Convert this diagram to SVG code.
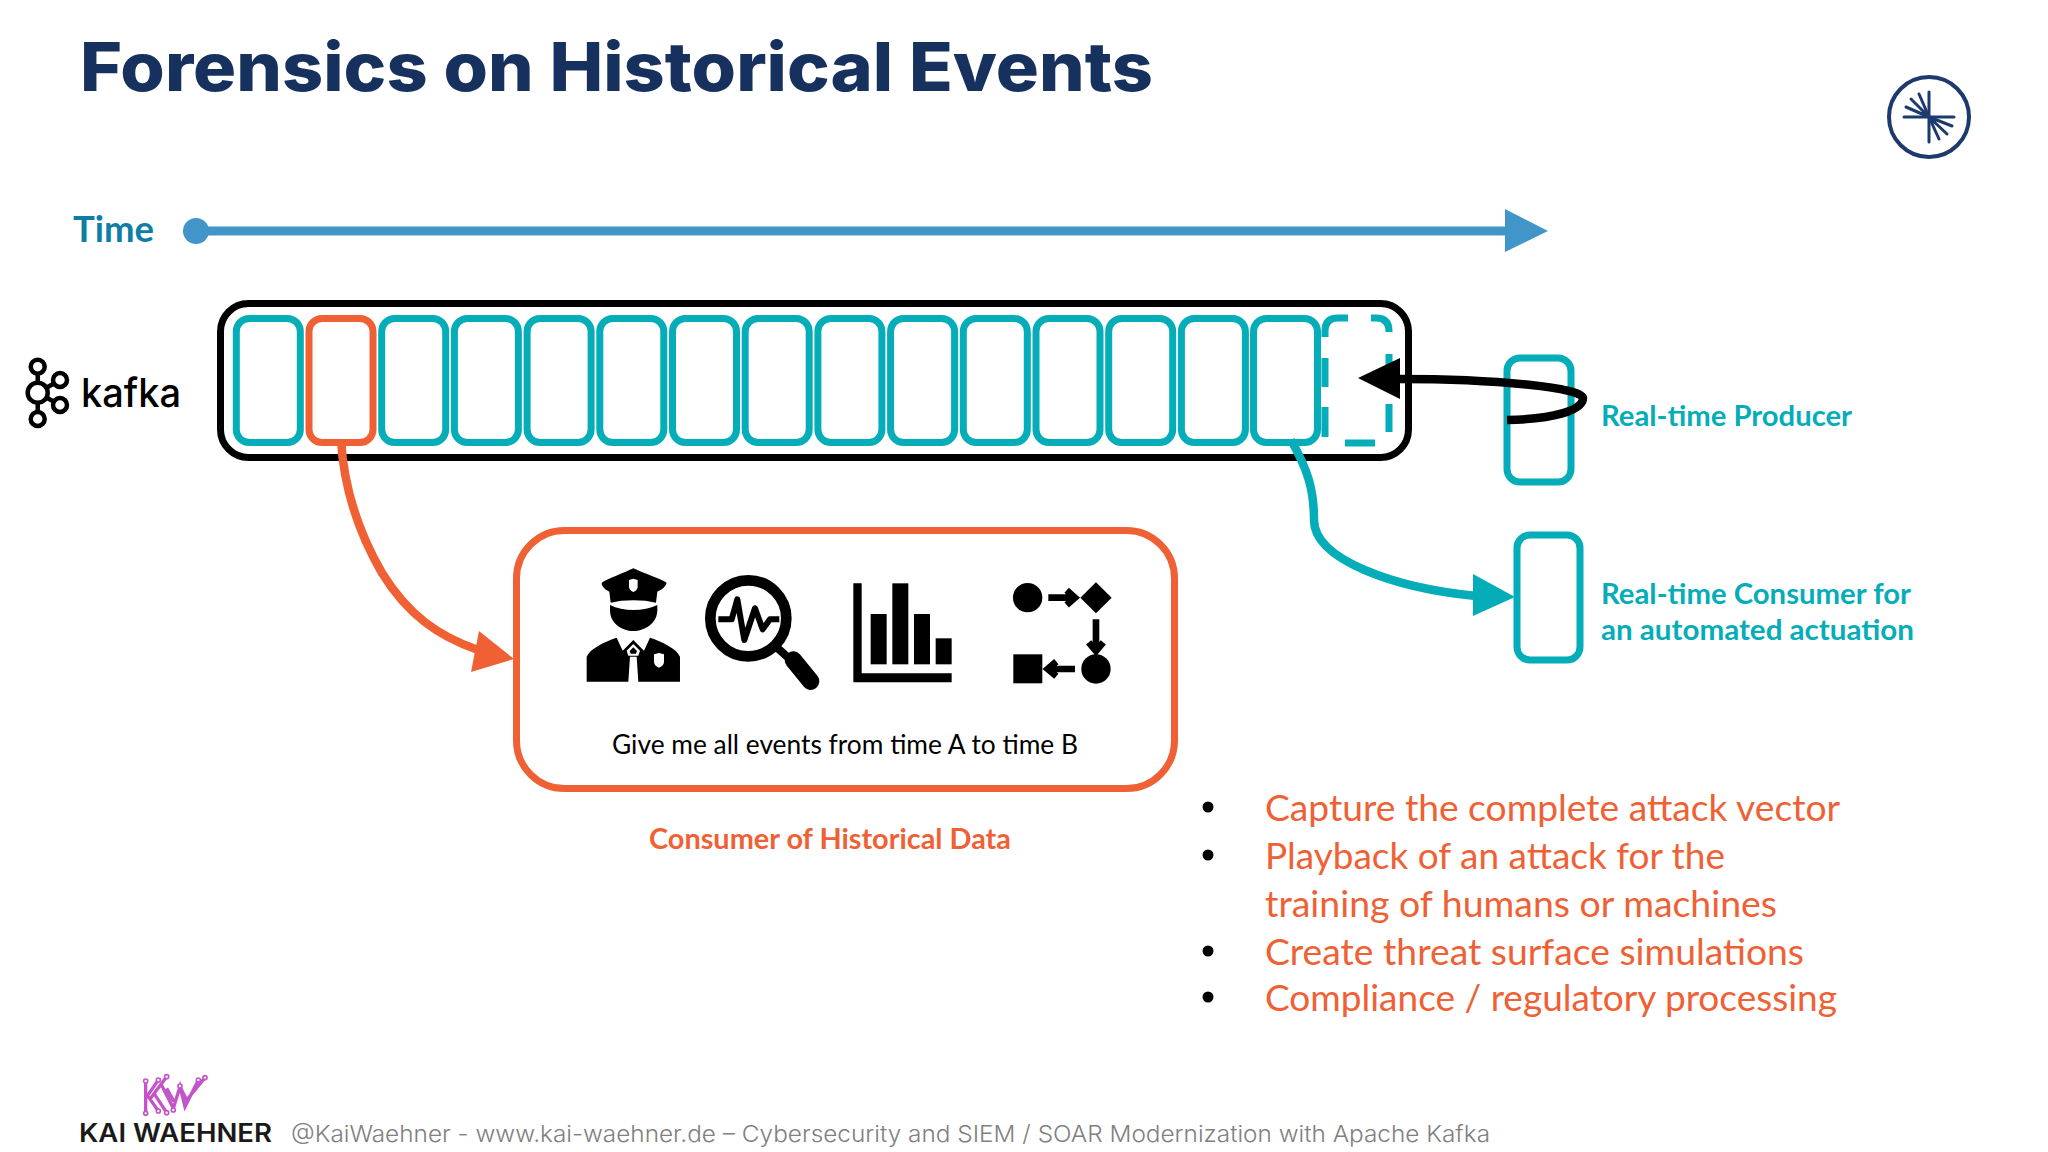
<svg xmlns="http://www.w3.org/2000/svg" width="2048" height="1152" viewBox="0 0 2048 1152">
<style>
text{font-family:"Lato","Open Sans","Liberation Sans",sans-serif}
.cell{fill:none;stroke:#05adb8;stroke-width:7}
.dash{fill:none;stroke:#05adb8;stroke-width:7}
.lab{font-weight:700;font-size:28px;fill:#05adb8}
.bul{font-size:36px;fill:#ef6134}
.dot{fill:#000}
.w{fill:#fff}
.kw{fill:none;stroke:#c455c8;stroke-width:10}
.kwd{fill:#fff;stroke:#c455c8;stroke-width:5}
.k{fill:none;stroke:#000;stroke-width:4.5}
</style>
<rect width="2048" height="1152" fill="#fff"/>
<g id="title"><text x="80" y="91" font-size="67" font-weight="800" fill="#17315f" textLength="1073" lengthAdjust="spacingAndGlyphs" style="font-family:Inter,'Open Sans',sans-serif">Forensics on Historical Events</text></g>
<g id="confluent-logo" fill="none" stroke="#1c3a6e">
<circle cx="1929" cy="117" r="40" stroke-width="4"/>
<g stroke-width="3" stroke-linecap="round"><path d="M1904 117H1954M1929 92V142"/>
<path d="M1929 117L1906 107M1929 117L1911 99M1929 117L1919 94M1929 117L1952 126M1929 117L1947 134M1929 117L1939 139"/></g>
</g>
<g id="time"><text x="73" y="242" font-size="37" font-weight="700" fill="#0f7ea5" textLength="81" lengthAdjust="spacingAndGlyphs">Time</text></g>
<g id="kafka-logo">
<path class="k" d="M37.7 366.700V419M37.700 392.700L60 380M37.700 392.700L60 405"/>
<circle class="w" cx="37.700" cy="392.700" r="10"/><circle class="k" cx="37.700" cy="392.700" r="10"/>
<circle class="w" cx="37.700" cy="366.700" r="7"/><circle class="k" cx="37.700" cy="366.700" r="7"/>
<circle class="w" cx="37.700" cy="419" r="7"/><circle class="k" cx="37.700" cy="419" r="7"/>
<circle class="w" cx="60" cy="380" r="7"/><circle class="k" cx="60" cy="380" r="7"/>
<circle class="w" cx="60" cy="405" r="7"/><circle class="k" cx="60" cy="405" r="7"/>
<text x="81" y="407" font-size="39" font-weight="500" fill="#000" textLength="100" lengthAdjust="spacingAndGlyphs" style="font-family:Inter,sans-serif">kafka</text>
</g>
<g id="log">
<rect x="220.500" y="303.500" width="1188" height="154" rx="28" fill="none" stroke="#000" stroke-width="7"/>
<rect class="cell" x="236.300" y="318.500" width="64" height="124" rx="13"/>
<rect class="cell" x="381.700" y="318.500" width="64" height="124" rx="13"/>
<rect class="cell" x="454.400" y="318.500" width="64" height="124" rx="13"/>
<rect class="cell" x="527.100" y="318.500" width="64" height="124" rx="13"/>
<rect class="cell" x="599.800" y="318.500" width="64" height="124" rx="13"/>
<rect class="cell" x="672.500" y="318.500" width="64" height="124" rx="13"/>
<rect class="cell" x="745.200" y="318.500" width="64" height="124" rx="13"/>
<rect class="cell" x="817.900" y="318.500" width="64" height="124" rx="13"/>
<rect class="cell" x="890.600" y="318.500" width="64" height="124" rx="13"/>
<rect class="cell" x="963.300" y="318.500" width="64" height="124" rx="13"/>
<rect class="cell" x="1036" y="318.500" width="64" height="124" rx="13"/>
<rect class="cell" x="1108.700" y="318.500" width="64" height="124" rx="13"/>
<rect class="cell" x="1181.400" y="318.500" width="64" height="124" rx="13"/>
<rect class="cell" x="1253.500" y="318.500" width="64" height="124" rx="13"/>
<rect x="309" y="318.500" width="64" height="124" rx="13" fill="none" stroke="#ef6134" stroke-width="7"/>
<path class="dash" d="M1325 337V331Q1325 318 1338 318H1348M1371 318H1376Q1389 318 1389 331V332M1325 358V387M1325 407V437M1389 354V387M1389 404V432M1345 443H1375"/>
</g>
<g id="producer"><rect class="cell" x="1507" y="358" width="64" height="124" rx="13"/><text class="lab" x="1601" y="426" textLength="251" lengthAdjust="spacingAndGlyphs">Real-time Producer</text></g>
<g id="consumer"><rect class="cell" x="1517" y="535" width="63" height="125" rx="13"/><text class="lab" x="1601" y="604" textLength="310" lengthAdjust="spacingAndGlyphs">Real-time Consumer for</text><text class="lab" x="1601" y="640" textLength="313" lengthAdjust="spacingAndGlyphs">an automated actuation</text></g>
<g id="historical-consumer">
<rect x="516.500" y="530.500" width="658" height="258" rx="48" fill="#fff" stroke="#ef6134" stroke-width="7"/>
<g id="icon-police" transform="translate(580 560) scale(.3333)">
<path d="M160 25C190 40 240 55 260 68C255 85 240 90 232 95L228 128C190 118 130 118 92 128L88 95C75 88 65 80 65 68C85 55 130 40 160 25Z"/>
<path class="w" d="M147 60L160 56L173 60V80Q173 90 160 96Q147 90 147 80Z"/>
<path d="M90 135C130 155 190 155 232 135V150C232 190 195 213 160 213C125 213 90 190 90 150Z"/>
<path d="M20 365V290C30 265 75 245 110 233L128 272L160 240L192 272L210 233C245 245 290 265 300 290V365H175L170 290H150L145 365Z"/>
<path class="w" d="M160 252L180 272L175 287H145L140 272Z"/><path d="M160 262L171 273L168 281H152L149 273Z"/>
<path class="w" d="M222 283L237 279L252 283V305Q252 317 237 323Q222 317 222 305Z"/>
</g>
<g id="icon-search" transform="translate(580 560) scale(.3333)">
<circle cx="505" cy="175" r="114" fill="none" stroke="#000" stroke-width="32"/>
<path d="M415 178H455L472 118L493 240L525 145L548 208L570 178H598" fill="none" stroke="#000" stroke-width="18" stroke-linejoin="round"/>
<path d="M590 262L630 298" stroke="#000" stroke-width="24"/>
<path d="M640 300L692 364" stroke="#000" stroke-width="52" stroke-linecap="round"/>
</g>
<g id="icon-chart" transform="translate(845 565) scale(.3333)">
<path d="M25 55H50V325H320V352H25Z"/><rect x="77" y="147" width="48" height="151"/><rect x="142" y="55" width="48" height="243"/><rect x="207" y="147" width="48" height="151"/><rect x="272" y="220" width="48" height="78"/>
</g>
<g id="icon-flow" transform="translate(845 565) scale(.3333)">
<circle cx="548" cy="98" r="44"/><path d="M706 98L753 52L800 98L753 145Z"/><circle cx="753" cy="312" r="44"/><rect x="505" y="268" width="87" height="87"/>
<path d="M610 98H685M665 76L690 98L665 120M753 163V250M731 232L753 258L775 232M690 312H612M634 290L608 312L634 334" fill="none" stroke="#000" stroke-width="20"/>
</g>
<text x="612" y="754" font-size="27" fill="#000" textLength="466" lengthAdjust="spacingAndGlyphs">Give me all events from time A to time B</text>
<text x="649" y="849" font-size="28" font-weight="700" fill="#ef6134" textLength="362" lengthAdjust="spacingAndGlyphs">Consumer of Historical Data</text>
</g>
<g id="connectors">
<path d="M205 231H1510" stroke="#4195c8" stroke-width="9" fill="none"/>
<circle cx="196" cy="231" r="13" fill="#4195c8"/>
<path d="M1505 209L1548 231L1505 252Z" fill="#4195c8"/>
<path d="M341 440C344 490 360 535 382 573C408 615 438 636 478 650" fill="none" stroke="#ef6134" stroke-width="8.500"/>
<path d="M479 631L514 659L471 672Z" fill="#ef6134"/>
<path d="M1291 440C1308 470 1314 490 1314 520C1314 560 1395 588 1476 596" fill="none" stroke="#05adb8" stroke-width="8.500"/>
<path d="M1473 574L1515 597L1473 616Z" fill="#05adb8"/>
<path d="M1507 420C1555 419 1583 410 1583 398C1583 388 1500 379 1398 379" fill="none" stroke="#000" stroke-width="8.500"/>
<path d="M1400 358L1358 378L1400 399Z" fill="#000"/>
</g>
<g id="notes">
<circle class="dot" cx="1208" cy="807" r="5.500"/><circle class="dot" cx="1208" cy="855" r="5.500"/><circle class="dot" cx="1208" cy="951" r="5.500"/><circle class="dot" cx="1208" cy="997" r="5.500"/>
<text class="bul" x="1265" y="821" textLength="575" lengthAdjust="spacingAndGlyphs">Capture the complete attack vector</text>
<text class="bul" x="1265" y="869" textLength="460" lengthAdjust="spacingAndGlyphs">Playback of an attack for the</text>
<text class="bul" x="1265" y="917" textLength="512" lengthAdjust="spacingAndGlyphs">training of humans or machines</text>
<text class="bul" x="1265" y="965" textLength="539" lengthAdjust="spacingAndGlyphs">Create threat surface simulations</text>
<text class="bul" x="1265" y="1011" textLength="572" lengthAdjust="spacingAndGlyphs">Compliance / regulatory processing</text>
</g>
<g id="footer">
<g transform="translate(130 1065) scale(.3333)">
<path class="kw" d="M47 48V145M47 100L85 45M60 102L110 35M55 95L85 138M72 85L110 143M92 55L130 130L150 65L165 125L205 45M110 70L132 110M150 65L170 105L225 38"/>
<g class="kwd"><circle cx="47" cy="48" r="6"/><circle cx="47" cy="145" r="6"/><circle cx="85" cy="45" r="6"/><circle cx="110" cy="35" r="6"/><circle cx="85" cy="138" r="6"/><circle cx="110" cy="143" r="6"/><circle cx="150" cy="63" r="6"/><circle cx="205" cy="45" r="6"/><circle cx="225" cy="38" r="6"/><circle cx="130" cy="135" r="6"/></g>
</g>
<text x="79" y="1142" font-size="25" font-weight="600" fill="#1a1a1a" textLength="193" lengthAdjust="spacingAndGlyphs" style="font-family:Inter,sans-serif">KAI WAEHNER</text>
<text x="291" y="1142" font-size="23" font-weight="300" fill="#808080" textLength="1199" lengthAdjust="spacingAndGlyphs" style="font-family:Inter,sans-serif">@KaiWaehner - www.kai-waehner.de – Cybersecurity and SIEM / SOAR Modernization with Apache Kafka</text>
</g>
</svg>
